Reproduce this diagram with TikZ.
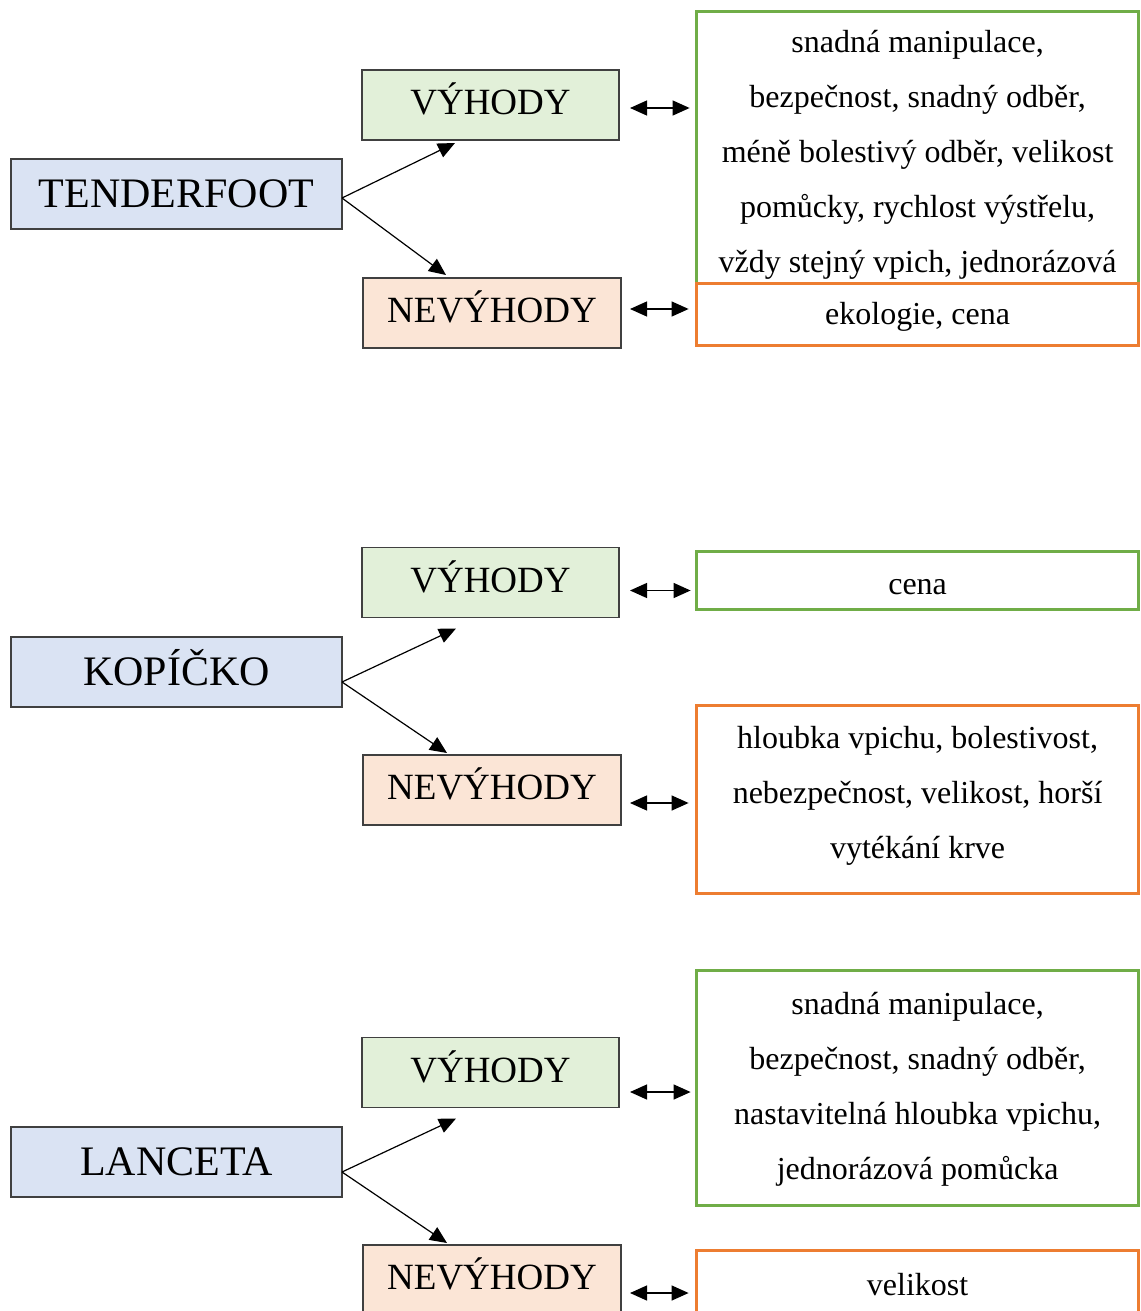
\documentclass[tikz,border=0pt]{standalone}
\usepackage{fontspec}
\setmainfont{Liberation Serif}
\usetikzlibrary{arrows.meta,calc}
\definecolor{bfill}{HTML}{DAE3F3}
\definecolor{gfill}{HTML}{E2F0D9}
\definecolor{ofill}{HTML}{FBE5D6}
\definecolor{boxline}{HTML}{404040}
\definecolor{gline}{HTML}{70AD47}
\definecolor{oline}{HTML}{ED7D31}
\begin{document}
\begin{tikzpicture}[x=1pt,y=-1pt,
  mainbox/.style={draw=boxline,line width=1.3pt,fill=bfill,minimum width=331pt,minimum height=70pt,inner sep=0pt,outer sep=0pt,font=\fontsize{42}{50}\selectfont,text height=27.7pt,text depth=0pt},
  probox/.style={draw=boxline,line width=1.3pt,fill=gfill,minimum width=257pt,minimum height=70pt,inner sep=0pt,outer sep=0pt,font=\fontsize{37}{44}\selectfont,text height=24.4pt,text depth=5pt},
  conbox/.style={draw=boxline,line width=1.3pt,fill=ofill,minimum width=258pt,minimum height=70pt,inner sep=0pt,outer sep=0pt,font=\fontsize{37}{44}\selectfont,text height=24.4pt,text depth=5pt},
  gbox/.style={draw=gline,line width=3pt,fill=white,minimum width=442pt,inner sep=0pt,outer sep=0pt},
  obox/.style={draw=oline,line width=3pt,fill=white,minimum width=442pt,inner sep=0pt,outer sep=0pt},
  body/.style={align=center,inner sep=0pt,font=\fontsize{32}{55}\selectfont},
  arr/.style={-{Triangle[length=17pt,width=15pt]},line width=1.2pt},
  darr/.style={{Triangle[length=17pt,width=15pt]}-{Triangle[length=17pt,width=15pt]},line width=1.3pt}
]
\useasboundingbox (0,0) rectangle (1140,1311);
\clip (0,0) rectangle (1140,1311);

% ---------- TENDERFOOT ----------
\node[mainbox] (t) at (176.5,194) {TENDERFOOT};
\node[probox] (tv) at (490.5,105) {VÝHODY};
\node[conbox] (tn) at (492,313) {NEVÝHODY};
\node[gbox,minimum height=272pt] (tg) at (917.6,147.4) {};
\node[obox,minimum height=62pt] (to) at (917.6,314.5) {};
\node[body] (tgt) at (917.6,155) {snadná manipulace,\\bezpečnost, snadný odběr,\\méně bolestivý odběr, velikost\\pomůcky, rychlost výstřelu,\\vždy stejný vpich, jednorázová};
\node[body] (tot) at (917.6,317) {ekologie, cena};
\coordinate (ts) at ($(t.east)+(0,4)$);
\coordinate (tva) at ($(tv.south west)+(93,3)$);
\coordinate (tna) at ($(tn.north west)+(83,-3)$);
\draw[arr] (ts) -- (tva);
\draw[arr] (ts) -- (tna);
\coordinate (tv1) at ($(tv.east)+(11,3)$);
\coordinate (tv2) at (tv1 -| tg.west);
\draw[darr] (tv1) -- ($(tv2)+(-7,0)$);
\coordinate (tn1) at ($(tn.east)+(9,-4)$);
\coordinate (tn2) at (tn1 -| to.west);
\draw[darr] (tn1) -- ($(tn2)+(-8,0)$);

% ---------- KOPÍČKO ----------
\node[mainbox] (k) at (176.5,672) {KOPÍČKO};
\node[probox] (kv) at (490.5,582.5) {VÝHODY};
\node[conbox] (kn) at (492,790) {NEVÝHODY};
\node[gbox,minimum height=58pt] (kg) at (917.6,580) {};
\node[obox,minimum height=187.5pt] (ko) at (917.6,799.3) {};
\node[body] (kgt) at (917.6,587) {cena};
\node[body] (kot) at (917.6,795.5) {hloubka vpichu, bolestivost,\\nebezpečnost, velikost, horší\\vytékání krve};
\coordinate (ks) at ($(k.east)+(0,10)$);
\coordinate (kva) at ($(kv.south west)+(94,11)$);
\coordinate (kna) at ($(kn.north west)+(84,-2)$);
\draw[arr] (ks) -- (kva);
\draw[arr] (ks) -- (kna);
\coordinate (kv1) at ($(kv.east)+(11,8)$);
\coordinate (kv2) at (kv1 -| kg.west);
\draw[darr] (kv1) -- ($(kv2)+(-6,0)$);
\coordinate (kn1) at ($(kn.east)+(9,13)$);
\coordinate (kn2) at (kn1 -| ko.west);
\draw[darr] (kn1) -- ($(kn2)+(-8,0)$);

% ---------- LANCETA ----------
\node[mainbox] (l) at (176.5,1162) {LANCETA};
\node[probox] (lv) at (490.5,1072.5) {VÝHODY};
\node[conbox] (ln) at (492,1280) {NEVÝHODY};
\node[gbox,minimum height=235pt] (lg) at (917.6,1087.5) {};
\node[obox,minimum height=70pt] (lo) at (917.6,1285) {};
\node[body] (lgt) at (917.6,1089) {snadná manipulace,\\bezpečnost, snadný odběr,\\nastavitelná hloubka vpichu,\\jednorázová pomůcka};
\node[body] (lot) at (917.6,1285) {velikost};
\coordinate (ls) at ($(l.east)+(0,10)$);
\coordinate (lva) at ($(lv.south west)+(94,11)$);
\coordinate (lna) at ($(ln.north west)+(84,-2)$);
\draw[arr] (ls) -- (lva);
\draw[arr] (ls) -- (lna);
\coordinate (lv1) at ($(lv.east)+(11,19.5)$);
\coordinate (lv2) at (lv1 -| lg.west);
\draw[darr] (lv1) -- ($(lv2)+(-6,0)$);
\coordinate (ln1) at ($(ln.east)+(9,13)$);
\coordinate (ln2) at (ln1 -| lo.west);
\draw[darr] (ln1) -- ($(ln2)+(-8,0)$);
\end{tikzpicture}
\end{document}
